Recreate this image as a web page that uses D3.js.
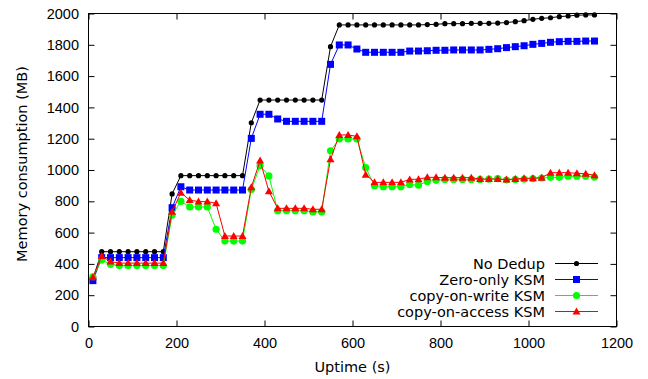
<!DOCTYPE html>
<html>
<head>
<meta charset="utf-8">
<script src="https://cdn.jsdelivr.net/npm/d3@7"></script>
<style>
  body { margin: 0; background: #fff; }
  svg { font-family: "DejaVu Sans", sans-serif; display: block; }
  .tick line { stroke: #000; }
  .tick text { font-size: 14.5px; fill: #000; }
</style>
</head>
<body>
<svg id="svg"></svg>
<script>
  var width = 648,
      height = 379;

  // sample times (s)
  var uptime = [10, 30, 50, 70, 90, 110, 130, 150, 170, 190,
                210, 230, 250, 270, 290, 310, 330, 350, 370, 390,
                410, 430, 450, 470, 490, 510, 530, 550, 570, 590,
                610, 630, 650, 670, 690, 710, 730, 750, 770, 790,
                810, 830, 850, 870, 890, 910, 930, 950, 970, 990,
                1010, 1030, 1050, 1070, 1090, 1110, 1130, 1150];

  // memory (MB)
  var noDedup = [305, 478, 478, 478, 478, 478, 478, 478, 478, 847,
                 964, 964, 964, 964, 964, 964, 964, 964, 1302, 1447,
                 1447, 1447, 1447, 1447, 1447, 1447, 1447, 1788, 1927, 1927,
                 1927, 1927, 1927, 1927, 1927, 1927, 1927, 1927, 1929, 1931,
                 1935, 1935, 1935, 1937, 1937, 1937, 1939, 1942, 1948, 1954,
                 1963, 1969, 1973, 1980, 1984, 1989, 1991, 1991];

  var zeroOnly = [293, 440, 440, 440, 440, 440, 440, 440, 440, 759,
                  893, 872, 872, 872, 872, 872, 872, 872, 1202, 1356,
                  1356, 1326, 1311, 1311, 1311, 1311, 1311, 1675, 1799, 1799,
                  1773, 1752, 1752, 1752, 1752, 1752, 1760, 1760, 1762, 1765,
                  1765, 1767, 1767, 1767, 1767, 1771, 1775, 1782, 1788, 1794,
                  1803, 1809, 1816, 1820, 1822, 1822, 1824, 1824];

  var copyOnWrite = [318, 425, 397, 389, 389, 389, 389, 389, 389, 712,
                     800, 764, 764, 764, 621, 546, 546, 546, 875, 1027,
                     962, 740, 740, 740, 740, 732, 732, 1123, 1198, 1198,
                     1198, 1015, 900, 893, 893, 893, 907, 903, 927, 934,
                     940, 940, 940, 940, 940, 942, 945, 936, 940, 942,
                     945, 949, 953, 953, 960, 960, 960, 955];

  var copyOnAccess = [315, 450, 415, 405, 405, 405, 405, 405, 405, 734,
                      855, 808, 798, 798, 787, 578, 578, 578, 890, 1060,
                      864, 755, 755, 755, 755, 749, 749, 1068, 1224, 1224,
                      1215, 970, 921, 921, 921, 921, 940, 941, 953, 953,
                      951, 951, 951, 951, 942, 942, 942, 939, 942, 947,
                      947, 951, 983, 983, 983, 979, 976, 966];

  var xTicks = [0, 200, 400, 600, 800, 1000, 1200];
  var yTicks = [0, 200, 400, 600, 800, 1000, 1200, 1400, 1600, 1800, 2000];

  var series = [
    {name: "No Dedup", values: noDedup, color: "#000000", shape: "dot"},
    {name: "Zero-only KSM", values: zeroOnly, color: "#0000ff", shape: "square"},
    {name: "copy-on-write KSM", values: copyOnWrite, color: "#00ff00", shape: "circle"},
    {name: "copy-on-access KSM", values: copyOnAccess, color: "#ff0000", shape: "triangle"}
  ];

  var plotL = 88.5, plotR = 616.5, plotT = 13.5, plotB = 326.5;

  var x = d3.scaleLinear().domain([0, 1200]).range([plotL, plotR]);
  var y = d3.scaleLinear().domain([0, 2000]).range([plotB, plotT]);

  var svg = d3.select("#svg")
      .attr("width", width)
      .attr("height", height);

  // axes, ticks pointing inwards on all four sides
  svg.append("g")
      .attr("transform", "translate(0," + plotB + ")")
      .call(d3.axisBottom(x).tickValues(xTicks).tickSizeInner(-6).tickSizeOuter(0)
            .tickPadding(11).tickFormat(d3.format("d")))
      .call(g => g.select(".domain").remove());
  svg.append("g")
      .attr("transform", "translate(0," + plotT + ")")
      .call(d3.axisTop(x).tickValues(xTicks).tickSizeInner(-6).tickSizeOuter(0).tickFormat(""))
      .call(g => g.select(".domain").remove());
  svg.append("g")
      .attr("transform", "translate(" + plotL + ",0)")
      .call(d3.axisLeft(y).tickValues(yTicks).tickSizeInner(-6).tickSizeOuter(0)
            .tickPadding(9.5).tickFormat(d3.format("d")))
      .call(g => g.select(".domain").remove());
  svg.append("g")
      .attr("transform", "translate(" + plotR + ",0)")
      .call(d3.axisRight(y).tickValues(yTicks).tickSizeInner(-6).tickSizeOuter(0).tickFormat(""))
      .call(g => g.select(".domain").remove());

  svg.append("rect")
      .attr("x", plotL).attr("y", plotT)
      .attr("width", plotR - plotL).attr("height", plotB - plotT)
      .attr("fill", "none").attr("stroke", "#000").attr("stroke-width", 1);

  svg.append("text")
      .attr("x", (plotL + plotR) / 2).attr("y", 372)
      .attr("text-anchor", "middle").attr("font-size", 14.5)
      .text("Uptime (s)");
  svg.append("text")
      .attr("transform", "translate(27,164) rotate(-90)")
      .attr("text-anchor", "middle").attr("font-size", 14.5)
      .text("Memory consumption (MB)");

  function drawMarker(sel, s) {
    if (s.shape === "dot") {
      sel.append("circle").attr("r", 2.6).attr("fill", s.color);
    } else if (s.shape === "square") {
      sel.append("rect").attr("x", -3.5).attr("y", -3.5)
        .attr("width", 7).attr("height", 7).attr("fill", s.color);
    } else if (s.shape === "circle") {
      sel.append("circle").attr("r", 3.6).attr("fill", s.color);
    } else {
      sel.append("path").attr("d", "M0,-4L4,3L-4,3Z").attr("fill", s.color);
    }
  }

  var line = d3.line()
      .x((d, i) => x(uptime[i]))
      .y(d => y(d));

  series.forEach(function(s) {
    var g = svg.append("g");
    g.append("path")
        .attr("d", line(s.values))
        .attr("fill", "none")
        .attr("stroke", s.color)
        .attr("stroke-width", 1);
    g.selectAll("g.pt").data(s.values)
      .enter().append("g")
        .attr("class", "pt")
        .attr("transform", (d, i) => "translate(" + x(uptime[i]) + "," + y(d) + ")")
        .each(function() { drawMarker(d3.select(this), s); });
  });

  // legend
  var legend = svg.append("g");
  series.forEach(function(s, i) {
    var ly = 263.5 + i * 16;
    legend.append("text")
        .attr("x", 545).attr("y", ly).attr("dy", "0.35em")
        .attr("text-anchor", "end").attr("font-size", 14.5)
        .text(s.name);
    legend.append("line")
        .attr("x1", 555).attr("x2", 598)
        .attr("y1", ly).attr("y2", ly)
        .attr("stroke", s.color).attr("stroke-width", 1);
    var m = legend.append("g").attr("transform", "translate(576.5," + ly + ")");
    drawMarker(m, s);
  });
</script>
</body>
</html>
